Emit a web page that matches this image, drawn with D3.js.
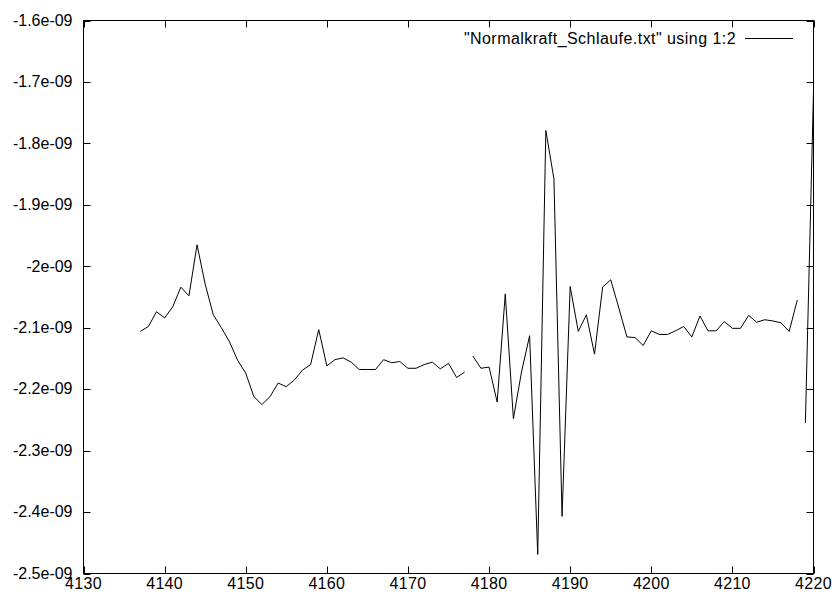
<!DOCTYPE html>
<html>
<head>
<meta charset="utf-8">
<script src="https://cdn.jsdelivr.net/npm/d3@7"></script>
<style>
  body { margin: 0; background: #fff; }
  text { font-family: "Liberation Sans", Arial, sans-serif; font-size: 16px; fill: #000; }
</style>
</head>
<body>
<div id="chart"></div>
<script>
// three runs of the file, gnuplot breaks the line between them
const xs1 = [4137, 4138, 4139, 4140, 4141, 4142, 4143, 4144, 4145, 4146,
             4147, 4148, 4149, 4150, 4151, 4152, 4153, 4154, 4155, 4156,
             4157, 4158, 4159, 4160, 4161, 4162, 4163, 4164, 4165, 4166,
             4167, 4168, 4169, 4170, 4171, 4172, 4173, 4174, 4175, 4176, 4177];
const ys1 = [-2.106, -2.098, -2.074, -2.084, -2.066, -2.034, -2.048, -1.965, -2.029, -2.079,
             -2.100, -2.123, -2.153, -2.174, -2.212, -2.225, -2.212, -2.190, -2.196, -2.185,
             -2.169, -2.160, -2.103, -2.162, -2.152, -2.149, -2.156, -2.168, -2.168, -2.168,
             -2.152, -2.157, -2.155, -2.166, -2.166, -2.160, -2.156, -2.167, -2.158, -2.181, -2.172];

const xs2 = [4178, 4179, 4180, 4181, 4182, 4183, 4184, 4185, 4186, 4187,
             4188, 4189, 4190, 4191, 4192, 4193, 4194, 4195, 4196, 4197,
             4198, 4199, 4200, 4201, 4202, 4203, 4204, 4205, 4206, 4207,
             4208, 4209, 4210, 4211, 4212, 4213, 4214, 4215, 4216, 4217, 4218];
const ys2 = [-2.146, -2.166, -2.164, -2.221, -2.045, -2.248, -2.172, -2.113, -2.469, -1.779,
             -1.858, -2.407, -2.033, -2.106, -2.079, -2.143, -2.034, -2.022, -2.068, -2.115,
             -2.116, -2.129, -2.105, -2.111, -2.111, -2.105, -2.098, -2.115, -2.081, -2.105,
             -2.105, -2.090, -2.101, -2.101, -2.080, -2.091, -2.087, -2.089, -2.092, -2.106, -2.055];

const xs3 = [4219, 4220];
const ys3 = [-2.255, -1.714];

const xTicks = [4130, 4140, 4150, 4160, 4170, 4180, 4190, 4200, 4210, 4220];
const yTicks = [-1.6, -1.7, -1.8, -1.9, -2.0, -2.1, -2.2, -2.3, -2.4, -2.5];
const yTickLabels = ["-1.6e-09", "-1.7e-09", "-1.8e-09", "-1.9e-09", "-2e-09",
                     "-2.1e-09", "-2.2e-09", "-2.3e-09", "-2.4e-09", "-2.5e-09"];
const legendLabel = '"Normalkraft_Schlaufe.txt" using 1:2';

const W = 836, H = 598;
const pLeft = 83.5, pRight = 813.5, pTop = 20.5, pBottom = 573.5;

const x = d3.scaleLinear().domain([4130, 4220]).range([pLeft, pRight]);
const y = d3.scaleLinear().domain([-2.5, -1.6]).range([pBottom, pTop]);

const svg = d3.select('#chart')
    .append('svg')
    .attr('width', W)
    .attr('height', H);

const tl = 7;

// ticks, mirrored on all four sides like gnuplot
const tickG = svg.append('g').attr('stroke', '#000').attr('stroke-width', 1);
xTicks.forEach(function(t) {
    const px = Math.round(x(t)) + 0.5;
    tickG.append('line').attr('x1', px).attr('x2', px).attr('y1', pBottom).attr('y2', pBottom - tl);
    tickG.append('line').attr('x1', px).attr('x2', px).attr('y1', pTop).attr('y2', pTop + tl);
});
yTicks.forEach(function(t) {
    const py = Math.round(y(t)) + 0.5;
    tickG.append('line').attr('x1', pLeft).attr('x2', pLeft + tl).attr('y1', py).attr('y2', py);
    tickG.append('line').attr('x1', pRight).attr('x2', pRight - tl).attr('y1', py).attr('y2', py);
});

// tick labels
svg.append('g')
    .selectAll('text')
    .data(xTicks)
    .enter()
    .append('text')
    .attr('x', d => x(d))
    .attr('y', 589)
    .attr('text-anchor', 'middle')
    .style('letter-spacing', '0.3px')
    .text(d => d);

svg.append('g')
    .selectAll('text')
    .data(yTicks)
    .enter()
    .append('text')
    .attr('x', pLeft - 11)
    .attr('y', d => y(d))
    .attr('dy', '0.33em')
    .attr('text-anchor', 'end')
    .text((d, i) => yTickLabels[i]);

// border
svg.append('rect')
    .attr('x', pLeft)
    .attr('y', pTop)
    .attr('width', pRight - pLeft)
    .attr('height', pBottom - pTop)
    .attr('fill', 'none')
    .attr('stroke', '#000');

// data
const line = d3.line()
    .x(d => x(d[0]))
    .y(d => y(d[1]));

const runs = [
    d3.zip(xs1, ys1),
    d3.zip(xs2, ys2),
    d3.zip(xs3, ys3)
];

svg.append('g')
    .selectAll('path')
    .data(runs)
    .enter()
    .append('path')
    .attr('fill', 'none')
    .attr('stroke', '#000')
    .attr('stroke-width', 1)
    .attr('d', line);

// legend
svg.append('text')
    .attr('x', 736)
    .attr('y', 38)
    .attr('dy', '0.35em')
    .attr('text-anchor', 'end')
    .style('letter-spacing', '0.45px')
    .text(legendLabel);
svg.append('line')
    .attr('x1', 745)
    .attr('x2', 793)
    .attr('y1', 38.5)
    .attr('y2', 38.5)
    .attr('stroke', '#000');
</script>
</body>
</html>
